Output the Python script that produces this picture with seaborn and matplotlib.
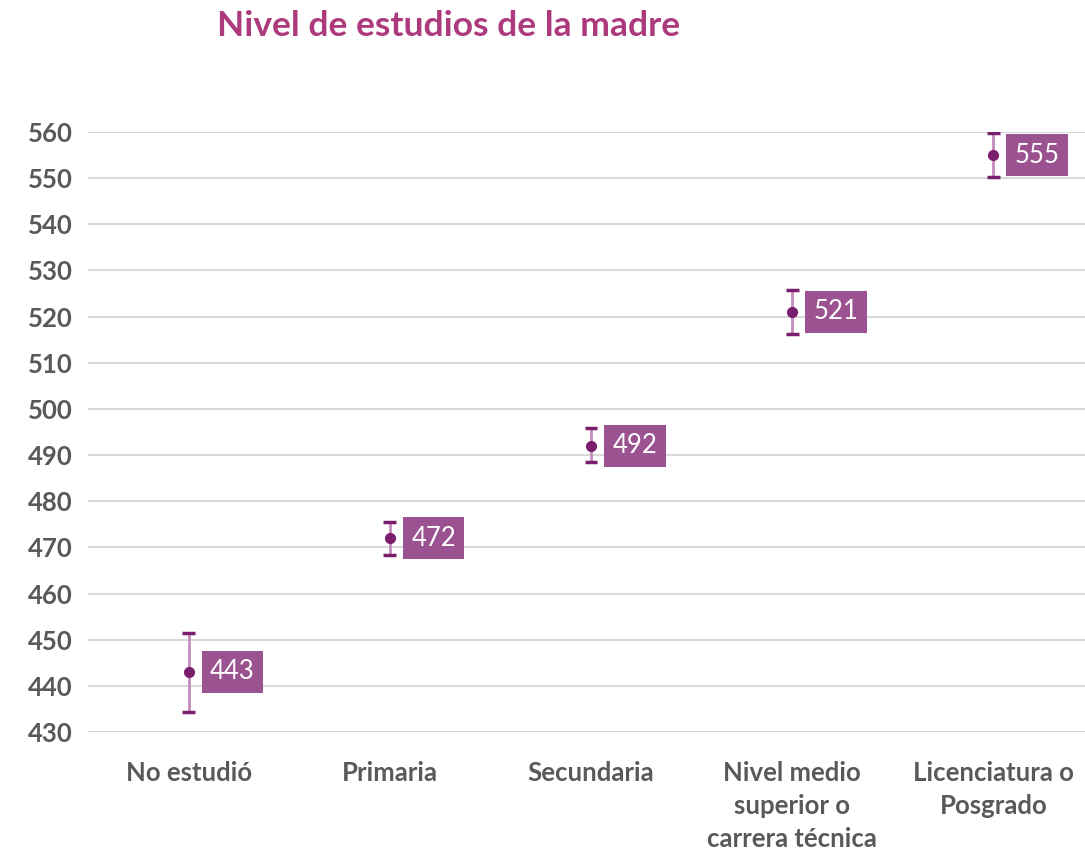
import matplotlib
matplotlib.use('Agg')
import matplotlib.pyplot as plt
import pandas
import seaborn as sns

# values
categories = ['No estudió', 'Primaria', 'Secundaria',
              'Nivel medio\nsuperior o\ncarrera técnica', 'Licenciatura o\nPosgrado']
scores = [443, 472, 492, 521, 555]
lower = [434.3, 468.4, 488.4, 516.3, 550.3]
upper = [451.4, 475.4, 495.8, 525.8, 559.8]

GRAY = '#595959'
PURPLE = '#7a1f6e'
LIGHT = '#c58cbc'
BOX = '#9b5290'

sns.set_style('white')
plt.rcParams['font.family'] = ['Lato', 'DejaVu Sans']

data = pandas.DataFrame({'nivel': categories, 'puntaje': scores})

fig = plt.figure(figsize=(10.85, 8.55), dpi=100)
ax = fig.add_axes([0.0811, 0.1439, 0.9189, 0.7017])

g = sns.pointplot(x='nivel', y='puntaje', data=data, order=categories, errorbar=None,
                  linestyle='none', color=PURPLE, markersize=6, ax=ax, zorder=5)

pos = list(range(len(categories)))
yerr = [[s - l for s, l in zip(scores, lower)], [u - s for s, u in zip(scores, upper)]]
ax.errorbar(pos, scores, yerr=yerr, fmt='none', ecolor=LIGHT, elinewidth=2, capsize=0, zorder=3)
ax.errorbar(pos, lower, fmt='none', xerr=0.032, ecolor=PURPLE, elinewidth=2.5, zorder=4)
ax.errorbar(pos, upper, fmt='none', xerr=0.032, ecolor=PURPLE, elinewidth=2.5, zorder=4)

for x, s in zip(pos, scores):
    ax.annotate(str(s), (x, s), xytext=(15.5, 0), textcoords='offset points',
                ha='left', va='center', fontsize=18.5, color='white',
                bbox=dict(boxstyle='square,pad=0.33', fc=BOX, ec='none'), zorder=6)

ax.set_ylim(430, 560)
ax.set_yticks(range(430, 561, 10))
ax.set_xlim(-0.5, 4.455)
ax.yaxis.grid(True, color='#d9d9d9', linewidth=1.5)
ax.set_axisbelow(True)
sns.despine(ax=ax, left=True, bottom=True)
ax.tick_params(length=0, labelsize=18.5, labelcolor=GRAY)
ax.tick_params(axis='y', pad=11)
ax.tick_params(axis='x', pad=21)
for lbl in ax.get_xticklabels() + ax.get_yticklabels():
    lbl.set_fontweight('bold')
    lbl.set_linespacing(1.45)
ax.set_xlabel('')
ax.set_ylabel('')

fig.text(0.413, 0.97, 'Nivel de estudios de la madre', ha='center', va='center',
         fontsize=25.5, fontweight='bold', color='#ad3a7c')

fig.savefig('out.png', dpi=100)
